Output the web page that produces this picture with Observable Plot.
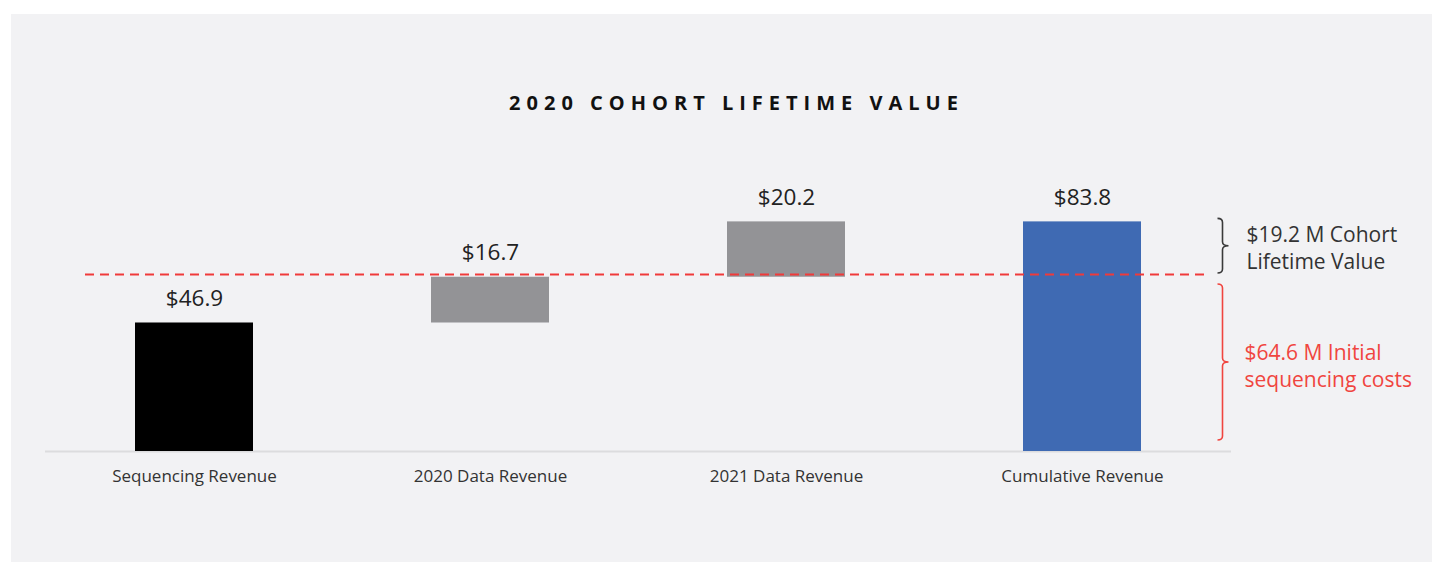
<!DOCTYPE html>
<html>
<head>
<meta charset="utf-8">
<script src="https://cdn.jsdelivr.net/npm/d3@7"></script>
<script src="https://cdn.jsdelivr.net/npm/@observablehq/plot@0.6"></script>
<style>
  html, body { margin: 0; padding: 0; background: #ffffff; }
  #panel {
    position: absolute; left: 11px; top: 14px; width: 1421px; height: 548px;
    background: #f2f2f4; font-family: "Open Sans", "Noto Sans", sans-serif;
  }
  #title {
    box-sizing: border-box; height: 126px; padding-top: 77px; padding-left: 30px;
    text-align: center; font-size: 20px; line-height: 24px; font-weight: 700;
    letter-spacing: 6px; color: #111;
  }
  #chart svg { display: block; }
</style>
</head>
<body>
<div id="panel">
  <div id="title">2020 COHORT LIFETIME VALUE</div>
  <div id="chart"></div>
</div>
<script>
const categories = ["Sequencing Revenue", "2020 Data Revenue", "2021 Data Revenue", "Cumulative Revenue"];
const values = [46.9, 16.7, 20.2, 83.8];
const kinds = ["start", "step", "step", "total"];
const barColors = ["#000000", "#939396", "#939396", "#3f6ab3"];
const initialCost = 64.6;
const lifetimeValue = 19.2;
const lifetimeLabel = "$19.2 M Cohort\nLifetime Value";
const costLabel = "$64.6 M Initial\nsequencing costs";

let running = 0;
const rows = categories.map((c, i) => {
  let y1, y2;
  if (kinds[i] === "total") { y1 = 0; y2 = values[i]; }
  else { y1 = running; y2 = running + values[i]; running = y2; }
  return { category: c, value: values[i], y1, y2, color: barColors[i], label: "$" + values[i].toFixed(1) };
});
const last = categories[categories.length - 1];
const total = values[values.length - 1];

function braces(index, scales, vals, dims) {
  const g = d3.create("svg:g").attr("fill", "none").attr("stroke-width", 1.6);
  const x0 = 1206.5, x1 = 1211.5, x2 = 1217.5, r = 4;
  function brace(top, bot, color) {
    const mid = (top + bot) / 2;
    g.append("path")
      .attr("stroke", color)
      .attr("d", `M${x0},${top} Q${x1},${top} ${x1},${top + r} L${x1},${mid - r} Q${x1},${mid} ${x2},${mid} Q${x1},${mid} ${x1},${mid + r} L${x1},${bot - r} Q${x1},${bot} ${x0},${bot}`);
  }
  brace(scales.y(total) - 3, scales.y(initialCost) - 1, "#3a3a3a");
  brace(scales.y(initialCost) + 10, scales.y(0) - 11, "#f0453f");
  return g.node();
}

const chart = Plot.plot({
  width: 1421,
  height: 422,
  marginLeft: 34,
  marginRight: 201,
  marginTop: 37,
  marginBottom: 111,
  style: { background: "transparent", fontFamily: "'Open Sans', 'Noto Sans', sans-serif" },
  x: { domain: categories, paddingInner: 0.6, paddingOuter: 0.3, label: null },
  y: { domain: [0, 100], axis: null },
  marks: [
    Plot.ruleY([0], { stroke: "#dcdcde", strokeWidth: 2 }),
    Plot.barY(rows, { x: "category", y1: "y1", y2: "y2", fill: "color" }),
    Plot.ruleY([initialCost], { stroke: "#f03a3a", strokeWidth: 2, strokeDasharray: "9,6", insetLeft: 40, insetRight: 21 }),
    Plot.text(rows, { x: "category", y: "y2", text: "label", dy: -24, fontSize: 22.5, fill: "#222" }),
    Plot.axisX({ tickSize: 0, tickPadding: 18, fontSize: 17, color: "#333", label: null }),
    braces,
    Plot.text([lifetimeLabel], { x: () => last, y: () => initialCost + lifetimeValue / 2, text: d => d, dx: 164, dy: -1, textAnchor: "start", fontSize: 21, lineHeight: 1.29, fill: "#333" }),
    Plot.text([costLabel], { x: () => last, y: () => initialCost / 2, text: d => d, dx: 162, dy: 2, textAnchor: "start", fontSize: 21, lineHeight: 1.29, fill: "#f0453f" })
  ]
});
document.getElementById("chart").appendChild(chart);
</script>
</body>
</html>
